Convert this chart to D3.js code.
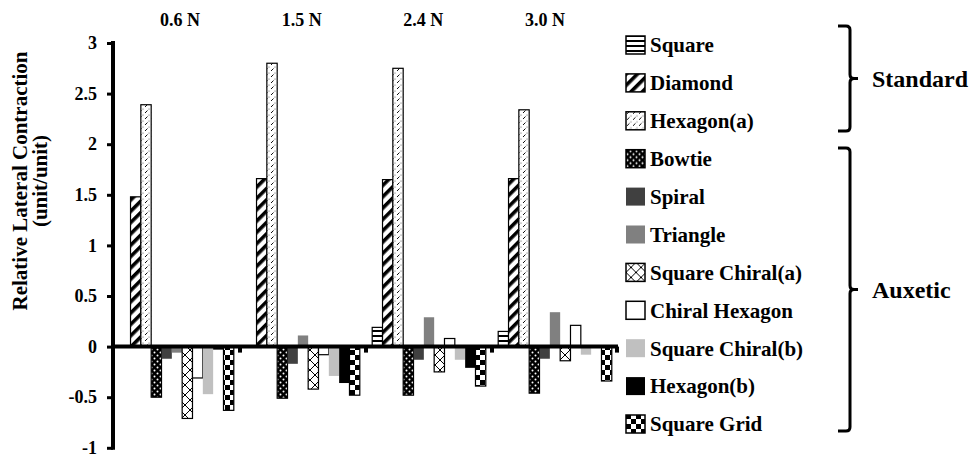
<!DOCTYPE html>
<html>
<head>
<meta charset="utf-8">
<script src="https://cdnjs.cloudflare.com/ajax/libs/d3/7.8.5/d3.min.js"></script>
<style>
  html, body { margin: 0; padding: 0; background: #fff; }
  svg { display: block; }
  svg text { font-family: "Liberation Serif", "Times New Roman", serif; font-weight: bold; fill: #000; }
</style>
</head>
<body>
<svg id="chart" width="974" height="457"></svg>
<script>
// Applied loads (categories)
const forces = ["0.6 N", "1.5 N", "2.4 N", "3.0 N"];

// Lattice structures (series), in plotting order
const structures = [
  "Square", "Diamond", "Hexagon(a)", "Bowtie", "Spiral", "Triangle",
  "Square Chiral(a)", "Chiral Hexagon", "Square Chiral(b)", "Hexagon(b)", "Square Grid"
];

// Relative lateral contraction (unit/unit) for each structure at each load
const square          = [0.00, 0.00, 0.19, 0.15];
const diamond         = [1.48, 1.66, 1.65, 1.66];
const hexagonA        = [2.39, 2.80, 2.75, 2.34];
const bowtie          = [-0.50, -0.51, -0.48, -0.46];
const spiral          = [-0.12, -0.17, -0.13, -0.12];
const triangle        = [-0.06, 0.11, 0.29, 0.34];
const squareChiralA   = [-0.71, -0.42, -0.25, -0.14];
const chiralHexagon   = [-0.31, -0.08, 0.08, 0.21];
const squareChiralB   = [-0.47, -0.29, -0.13, -0.08];
const hexagonB        = [-0.03, -0.36, -0.21, 0.00];
const squareGrid      = [-0.63, -0.48, -0.39, -0.34];

const seriesValues = [square, diamond, hexagonA, bowtie, spiral, triangle,
  squareChiralA, chiralHexagon, squareChiralB, hexagonB, squareGrid];

// Y axis ticks
const yTicks = [-1, -0.5, 0, 0.5, 1, 1.5, 2, 2.5, 3];
const yTickLabels = ["-1", "-0.5", "0", "0.5", "1", "1.5", "2", "2.5", "3"];

// Groups of structures marked with braces
const groups = [
  { name: "Standard", first: "Square", last: "Hexagon(a)" },
  { name: "Auxetic", first: "Bowtie", last: "Square Grid" }
];

const svg = d3.select("#chart");
const defs = svg.append("defs");

// ---- fill patterns ----
function pattern(id, w, h, transform) {
  const p = defs.append("pattern").attr("id", id)
    .attr("patternUnits", "userSpaceOnUse").attr("width", w).attr("height", h);
  if (transform) p.attr("patternTransform", transform);
  return p;
}
// horizontal stripes
let p = pattern("pSquare", 6, 5);
p.append("rect").attr("width", 6).attr("height", 5).attr("fill", "#fff");
p.append("rect").attr("width", 6).attr("height", 2).attr("fill", "#000");
// wide diagonal stripes
p = pattern("pDiamond", 8, 8, "rotate(45)");
p.append("rect").attr("width", 8).attr("height", 8).attr("fill", "#fff");
p.append("rect").attr("width", 3.6).attr("height", 8).attr("fill", "#000");
// small dashed diagonals
p = pattern("pHexA", 6, 6);
p.append("rect").attr("width", 6).attr("height", 6).attr("fill", "#fff");
p.append("line").attr("x1", 1).attr("y1", 5).attr("x2", 3.5).attr("y2", 2.5).attr("stroke", "#111").attr("stroke-width", 1);
p.append("circle").attr("cx", 5).attr("cy", 1).attr("r", 0.5).attr("fill", "#333");
// dark dots
p = pattern("pBowtie", 6, 6);
p.append("rect").attr("width", 6).attr("height", 6).attr("fill", "#000");
p.append("circle").attr("cx", 1.5).attr("cy", 1.5).attr("r", 1).attr("fill", "#fff");
p.append("circle").attr("cx", 4.5).attr("cy", 4.5).attr("r", 1).attr("fill", "#fff");
// diagonal cross-hatch
p = pattern("pSqChiralA", 10, 10);
p.append("rect").attr("width", 10).attr("height", 10).attr("fill", "#fff");
p.append("path").attr("d", "M0,0L10,10M10,0L0,10").attr("stroke", "#000").attr("stroke-width", 1);
// large checkerboard
p = pattern("pSqGrid", 10, 10);
p.append("rect").attr("width", 10).attr("height", 10).attr("fill", "#fff");
p.append("rect").attr("width", 5).attr("height", 5).attr("fill", "#000");
p.append("rect").attr("x", 5).attr("y", 5).attr("width", 5).attr("height", 5).attr("fill", "#000");

const styles = {
  "Square":           { fill: "url(#pSquare)",    stroke: "#000" },
  "Diamond":          { fill: "url(#pDiamond)",   stroke: "#000" },
  "Hexagon(a)":       { fill: "url(#pHexA)",      stroke: "#000" },
  "Bowtie":           { fill: "url(#pBowtie)",    stroke: "#000" },
  "Spiral":           { fill: "#404040",          stroke: "none" },
  "Triangle":         { fill: "#808080",          stroke: "none" },
  "Square Chiral(a)": { fill: "url(#pSqChiralA)", stroke: "#000" },
  "Chiral Hexagon":   { fill: "#fff",             stroke: "#000" },
  "Square Chiral(b)": { fill: "#c0c0c0",          stroke: "none" },
  "Hexagon(b)":       { fill: "#000",             stroke: "none" },
  "Square Grid":      { fill: "url(#pSqGrid)",    stroke: "#000" }
};

// ---- scales ----
const y = d3.scaleLinear().domain([-1, 3]).range([447.8, 43]);
const x0 = d3.scaleBand().domain(forces).range([114, 618]).padding(0);
const x1 = d3.scaleBand().domain(structures).range([0, x0.bandwidth()])
  .paddingInner(0).paddingOuter(0.6);

// ---- bars ----
const bars = [];
forces.forEach((f, i) => {
  structures.forEach((s, j) => bars.push({ force: f, structure: s, value: seriesValues[j][i] }));
});

svg.append("g").selectAll("rect").data(bars).join("rect")
  .attr("x", d => x0(d.force) + x1(d.structure))
  .attr("width", x1.bandwidth())
  .attr("y", d => y(Math.max(0, d.value)))
  .attr("height", d => Math.abs(y(d.value) - y(0)))
  .attr("fill", d => styles[d.structure].fill)
  .attr("stroke", d => styles[d.structure].stroke)
  .attr("stroke-width", 1.2);

// ---- y axis ----
const yAxis = svg.append("g").attr("transform", "translate(113,0)")
  .call(d3.axisLeft(y).tickValues(yTicks).tickFormat((d, i) => yTickLabels[i])
    .tickSize(6).tickSizeOuter(0).tickPadding(10));
yAxis.attr("font-family", null);
yAxis.select(".domain").attr("stroke-width", 4).attr("d", `M0,${y(3) - 2}V${y(-1) + 2}`);
yAxis.selectAll(".tick line").attr("stroke-width", 3);
yAxis.selectAll(".tick text").attr("font-size", 18);

// ---- zero baseline with category ticks ----
const xAxis = svg.append("g").attr("transform", `translate(0,${y(0)})`);
xAxis.append("line").attr("x1", 111).attr("x2", x0.range()[1])
  .attr("stroke", "#000").attr("stroke-width", 4);
xAxis.selectAll("line.ct").data(forces.slice(1).map(f => x0(f)).concat([x0.range()[1] - 1]))
  .join("line").attr("class", "ct")
  .attr("x1", d => d).attr("x2", d => d).attr("y1", 0).attr("y2", 6)
  .attr("stroke", "#000").attr("stroke-width", 4);

// ---- load labels across the top ----
const xLabel = d3.scalePoint().domain(forces).range([180, 545]);
svg.append("g").selectAll("text").data(forces).join("text")
  .attr("x", d => xLabel(d)).attr("y", 26)
  .attr("text-anchor", "middle").attr("font-size", 18).text(d => d);

// ---- y axis title ----
const title = svg.append("text").attr("transform", "translate(20,181) rotate(-90)")
  .attr("text-anchor", "middle").attr("font-size", 21);
title.append("tspan").attr("x", 0).attr("dy", "0.35em").text("Relative Lateral Contraction");
title.append("tspan").attr("x", 0).attr("dy", "0.92em").text("(unit/unit)");

// ---- legend ----
const ly = d3.scalePoint().domain(structures).range([45, 424]);
const legend = svg.append("g").selectAll("g").data(structures).join("g")
  .attr("transform", d => `translate(626,${ly(d)})`);
legend.append("rect").attr("x", 0).attr("y", -9).attr("width", 19).attr("height", 18)
  .attr("fill", d => styles[d].fill)
  .attr("stroke", d => styles[d].stroke === "none" ? "none" : "#000")
  .attr("stroke-width", 1.5);
legend.append("text").attr("x", 24).attr("dy", "0.35em").attr("font-size", 21).text(d => d);

// ---- braces grouping the legend ----
function brace(top, bottom, x) {
  const mid = (top + bottom) / 2, r = 4;
  return `M${x - 12},${top}H${x - r}Q${x},${top} ${x},${top + r}` +
    `V${mid - r}Q${x},${mid} ${x + r},${mid}H${x + 8}` +
    `M${x + r},${mid}Q${x},${mid} ${x},${mid + r}` +
    `V${bottom - r}Q${x},${bottom} ${x - r},${bottom}H${x - 12}`;
}
const braceTops = { "Standard": 26, "Auxetic": 148 };
const braceBottoms = { "Standard": 131, "Auxetic": 431 };
const bg = svg.append("g").selectAll("g").data(groups).join("g");
bg.append("path").attr("d", d => brace(braceTops[d.name], braceBottoms[d.name], 850))
  .attr("fill", "none").attr("stroke", "#000").attr("stroke-width", 3);
bg.append("text").attr("x", 872)
  .attr("y", d => (braceTops[d.name] + braceBottoms[d.name]) / 2)
  .attr("dy", "0.35em").attr("font-size", 24).text(d => d.name);
</script>
</body>
</html>
